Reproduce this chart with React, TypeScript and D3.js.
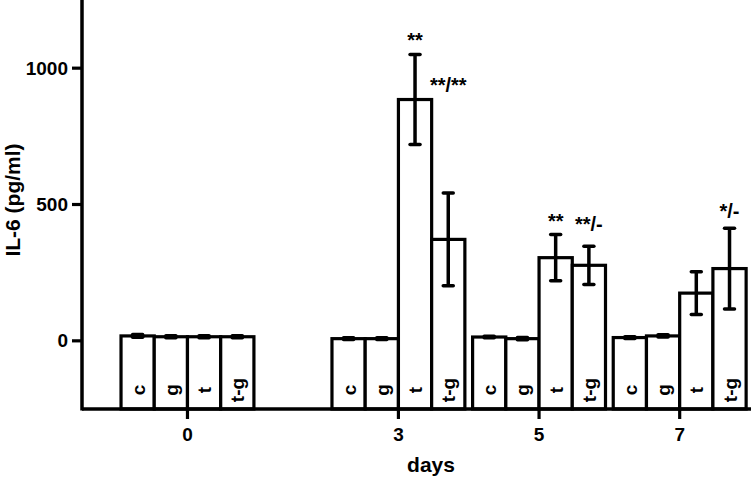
import React from 'react';
import * as d3 from 'd3';

const days = [0, 3, 5, 7];
const groups = ["c", "g", "t", "t-g"];

// mean IL-6 per day, one entry per group (c, g, t, t-g)
const meanDay0 = [18, 15, 15, 15];
const meanDay3 = [8, 8, 885, 372];
const meanDay5 = [14, 8, 305, 277];
const meanDay7 = [12, 18, 175, 265];

const errDay0 = [5, 4, 4, 4];
const errDay3 = [3, 3, 165, 170];
const errDay5 = [3, 4, 85, 70];
const errDay7 = [3, 4, 78, 148];

const means = [meanDay0, meanDay3, meanDay5, meanDay7];
const errors = [errDay0, errDay3, errDay5, errDay7];

const yTicks = [0, 500, 1000];

// significance marks: day, group, label, level (pg/ml) of the text baseline
const markDays = [3, 3, 5, 5, 7];
const markGroups = ["t", "t-g", "t", "t-g", "t-g"];
const markLabels = ["**", "**/**", "**", "**/-", "*/-"];
const markLevels = [1079, 912, 415, 401, 449];

const width = 751;
const height = 477;
const font = "'Liberation Sans', Arial, sans-serif";
const barWidthDays = 0.4725;

const x = d3.scaleLinear().domain([-1.5, 8]).range([82, 750]);
const y = d3.scaleLinear().domain([-250, 1250]).range([409, 0]);
const groupScale = d3.scaleBand().domain(groups).range([-2 * barWidthDays, 2 * barWidthDays]);

const barLeft = (day: number, g: string) => x(day + (groupScale(g) as number));
const barCenter = (day: number, g: string) => x(day + (groupScale(g) as number) + groupScale.bandwidth() / 2);

export default function App() {
	const bw = x(barWidthDays) - x(0);
	const y0 = y(-250);

	return (
		<svg width={width} height={height}
			style={{ position: 'absolute', left: 0, top: 0, background: '#fff' }}
			fontFamily={font} fontWeight="bold">
			<rect x={0} y={0} width={width} height={height} fill="#fff" />

			<g className="bars">
				{days.map((day, di) => groups.map((g, gi) => {
					const v = means[di][gi];
					return (
						<rect key={`${day}_${g}`}
							x={barLeft(day, g)}
							y={y(v)}
							width={bw}
							height={y0 - y(v)}
							fill="#fff"
							stroke="#000"
							strokeWidth={3.2} />
					);
				}))}
			</g>

			<g className="errors">
				{days.map((day, di) => groups.map((g, gi) => {
					const v = means[di][gi];
					const e = errors[di][gi];
					const cx = barCenter(day, g);
					return (
						<g key={`${day}_${g}`} stroke="#000">
							<line x1={cx} x2={cx} y1={y(v + e)} y2={y(v - e)} strokeWidth={3.5} />
							<line x1={cx - 5} x2={cx + 5} y1={y(v + e)} y2={y(v + e)} strokeWidth={3.5} strokeLinecap="round" />
							<line x1={cx - 5} x2={cx + 5} y1={y(v - e)} y2={y(v - e)} strokeWidth={3.5} strokeLinecap="round" />
						</g>
					);
				}))}
			</g>

			<g className="bar-labels" fontSize={19}>
				{days.map((day) => groups.map((g) => (
					<text key={`${day}_${g}`}
						transform={`translate(${barCenter(day, g) + 7},390)rotate(-90)`}
						textAnchor="middle">
						{g}
					</text>
				)))}
			</g>

			<g className="marks" fontSize={20}>
				{markLabels.map((label, i) => (
					<text key={i}
						x={barCenter(markDays[i], markGroups[i])}
						y={y(markLevels[i])}
						textAnchor="middle">
						{label}
					</text>
				))}
			</g>

			<g className="axis">
				<line x1={x(-1.5)} x2={x(-1.5)} y1={0} y2={y0 + 1.5} stroke="#000" strokeWidth={3.5} />
				<line x1={x(-1.5)} x2={width} y1={y0} y2={y0} stroke="#000" strokeWidth={3.5} />
				{yTicks.map((t) => (
					<g key={t}>
						<line x1={x(-1.5) - 10} x2={x(-1.5)} y1={y(t)} y2={y(t)} stroke="#000" strokeWidth={3.2} />
						<text x={x(-1.5) - 14} y={y(t)} dy="0.35em" textAnchor="end" fontSize={19}>{t}</text>
					</g>
				))}
				{days.map((d) => (
					<g key={d}>
						<line x1={x(d)} x2={x(d)} y1={y0} y2={y0 + 10} stroke="#000" strokeWidth={3.2} />
						<text x={x(d)} y={441} textAnchor="middle" fontSize={19}>{d}</text>
					</g>
				))}
				<text x={431} y={472} textAnchor="middle" fontSize={21}>days</text>
				<text transform="translate(20,200)rotate(-90)" textAnchor="middle" fontSize={21}>IL-6 (pg/ml)</text>
			</g>
		</svg>
	);
}
